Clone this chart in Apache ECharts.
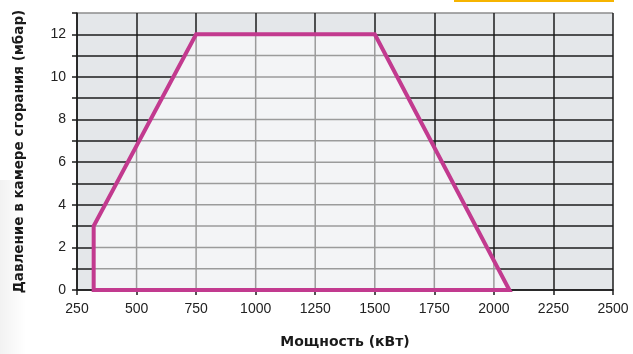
<!DOCTYPE html>
<html>
<head>
<meta charset="utf-8">
<script src="https://cdn.jsdelivr.net/npm/echarts@6/dist/echarts.min.js"></script>
<style>
  html, body { margin: 0; padding: 0; background: #ffffff; }
  #chart { width: 633px; height: 354px; }
</style>
</head>
<body>
<div id="chart"></div>
<script>
// Working field of the burner: power (kW) vs. combustion chamber pressure (mbar)
const powerKW = [320, 320, 750, 1500, 2065];
const pressureMbar = [0, 3, 12, 12, 0];
const xTicks = [250, 500, 750, 1000, 1250, 1500, 1750, 2000, 2250, 2500];
const yLabels = [0, 2, 4, 6, 8, 10, 12];

const X_MIN = 250, X_MAX = 2500, X_STEP = 250;
const Y_MIN = 0, Y_MAX = 13, Y_STEP = 1;

const FONT = '"Liberation Sans", Arial, Helvetica, sans-serif';
const TITLE_FONT = '"DejaVu Sans", "Liberation Sans", Arial, sans-serif';

// polygon edges in data space
const verts = powerKW.map((x, i) => [x, pressureMbar[i]]);
const edges = verts.map((v, i) => [v, verts[(i + 1) % verts.length]]);

// y-range of the field along a vertical line x
function verticalSpan(x) {
  const ys = [];
  edges.forEach(([a, b]) => {
    const lo = Math.min(a[0], b[0]), hi = Math.max(a[0], b[0]);
    if (x >= lo && x <= hi && a[0] !== b[0]) {
      ys.push(a[1] + (b[1] - a[1]) * (x - a[0]) / (b[0] - a[0]));
    }
  });
  if (!ys.length) return null;
  return [Math.min(...ys), Math.max(...ys)];
}
// x-range of the field along a horizontal line y
function horizontalSpan(y) {
  const xs = [];
  edges.forEach(([a, b]) => {
    const lo = Math.min(a[1], b[1]), hi = Math.max(a[1], b[1]);
    if (y >= lo && y <= hi && a[1] !== b[1]) {
      xs.push(a[0] + (b[0] - a[0]) * (y - a[1]) / (b[1] - a[1]));
    }
  });
  if (!xs.length) return null;
  return [Math.min(...xs), Math.max(...xs)];
}

const chart = echarts.init(document.getElementById('chart'), null, { renderer: 'canvas' });

const ySplitColors = [];
for (let v = Y_MIN; v <= Y_MAX; v += Y_STEP) ySplitColors.push(v === Y_MAX ? '#8c8c8c' : '#1c1c1c');

const option = {
  backgroundColor: '#ffffff',
  animation: false,
  grid: {
    left: 77, right: 20, top: 13, bottom: 64,
    show: true, backgroundColor: '#e4e7ea', borderWidth: 0
  },
  xAxis: {
    type: 'value', min: X_MIN, max: X_MAX, interval: X_STEP,
    name: 'Мощность (кВт)', nameLocation: 'middle', nameGap: 45,
    nameTextStyle: { fontFamily: TITLE_FONT, fontWeight: 'bold', fontSize: 14, color: '#1a1a1a' },
    axisLine: { lineStyle: { color: '#1c1c1c', width: 1.5 } },
    axisTick: { length: 5, lineStyle: { color: '#1c1c1c', width: 1.5 } },
    axisLabel: {
      margin: 12, fontFamily: FONT, fontSize: 14, color: '#222222',
      formatter: v => (xTicks.includes(v) ? String(v) : '')
    },
    splitLine: { show: true, lineStyle: { color: '#1c1c1c', width: 1.5 } }
  },
  yAxis: {
    type: 'value', min: Y_MIN, max: Y_MAX, interval: Y_STEP,
    name: 'Давление в камере сгорания (мбар)', nameLocation: 'middle', nameGap: 51,
    nameTextStyle: { fontFamily: TITLE_FONT, fontWeight: 'bold', fontSize: 13.5, color: '#1a1a1a' },
    axisLine: { show: true, lineStyle: { color: '#1c1c1c', width: 1.5 } },
    axisTick: { length: 5, lineStyle: { color: '#1c1c1c', width: 1.5 } },
    axisLabel: {
      margin: 11, fontFamily: FONT, fontSize: 14, color: '#222222',
      formatter: v => (yLabels.includes(v) ? String(v) : '')
    },
    splitLine: { show: true, lineStyle: { color: ySplitColors, width: 1.5 } }
  },
  graphic: [
    {
      type: 'rect', left: 454, top: 0, z: 10,
      shape: { width: 160, height: 2 },
      style: { fill: '#f6b400' }
    },
    {
      type: 'rect', left: 0, top: 180, z: -1, silent: true,
      shape: { width: 26, height: 174 },
      style: {
        fill: new echarts.graphic.LinearGradient(0, 0, 1, 0, [
          { offset: 0, color: 'rgba(0,0,0,0.05)' },
          { offset: 1, color: 'rgba(0,0,0,0)' }
        ])
      }
    }
  ],
  series: [{
    type: 'custom',
    coordinateSystem: 'cartesian2d',
    clip: false,
    data: [[X_MIN, Y_MIN]],
    renderItem: function (params, api) {
      const pts = verts.map(v => api.coord(v));
      const children = [];
      // light fill of the working field
      children.push({
        type: 'polygon', shape: { points: pts },
        style: { fill: '#f3f4f6', stroke: null }
      });
      const grey = { stroke: '#9b9b9b', lineWidth: 1.5 };
      // grey vertical gridlines inside the field
      for (let x = X_MIN; x <= X_MAX; x += X_STEP) {
        const s = verticalSpan(x);
        if (!s || s[1] - s[0] <= 0) continue;
        const p0 = api.coord([x, s[0]]), p1 = api.coord([x, s[1]]);
        children.push({ type: 'line', shape: { x1: p0[0], y1: p0[1], x2: p1[0], y2: p1[1] }, style: grey });
      }
      // grey horizontal gridlines inside the field
      for (let y = Y_MIN + Y_STEP; y < Y_MAX; y += Y_STEP) {
        const s = horizontalSpan(y);
        if (!s || s[1] - s[0] <= 0) continue;
        const p0 = api.coord([s[0], y]), p1 = api.coord([s[1], y]);
        children.push({ type: 'line', shape: { x1: p0[0], y1: p0[1], x2: p1[0], y2: p1[1] }, style: grey });
      }
      // field outline
      children.push({
        type: 'polygon', shape: { points: pts },
        style: { fill: null, stroke: '#c23a8f', lineWidth: 4, lineJoin: 'miter' }
      });
      return { type: 'group', children: children };
    }
  }]
};

chart.setOption(option);
</script>
</body>
</html>
